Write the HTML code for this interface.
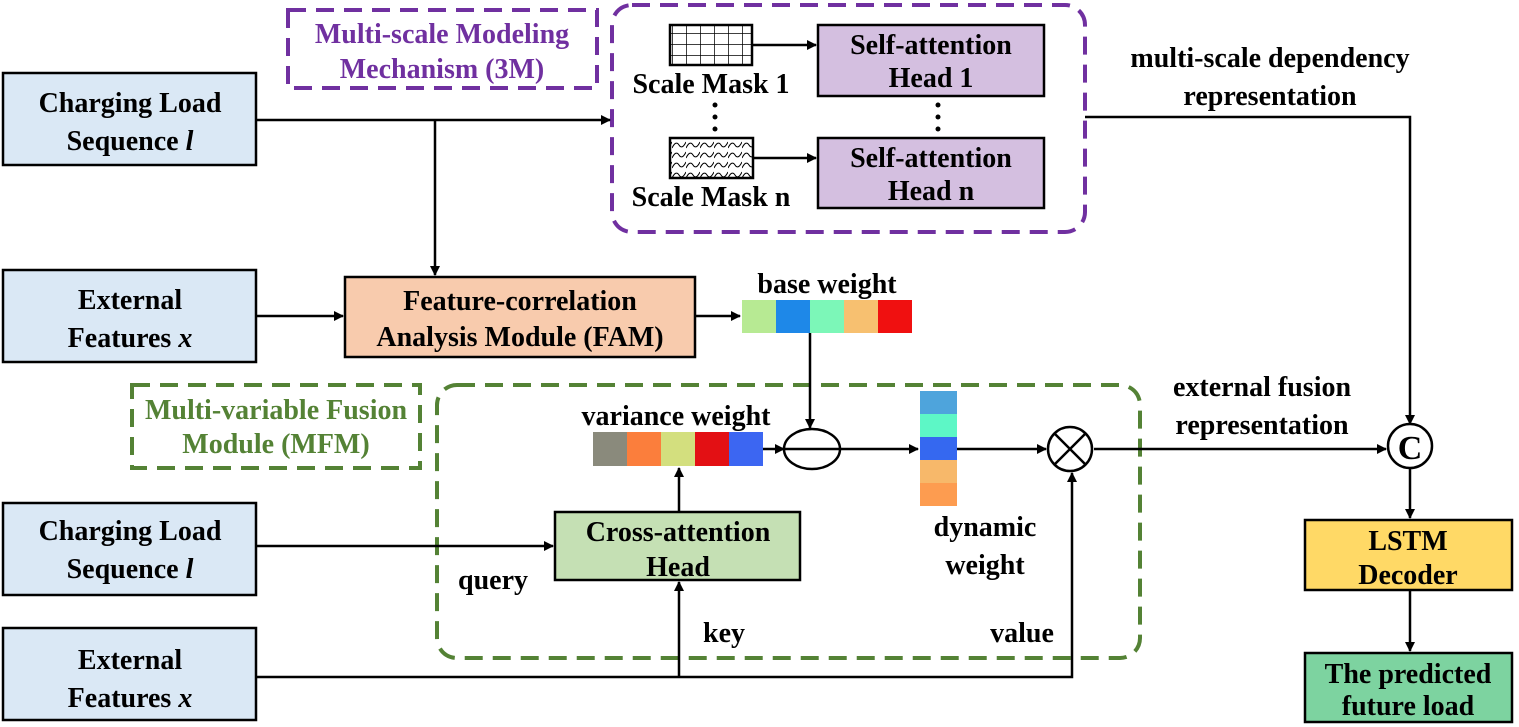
<!DOCTYPE html><html><head><style>body{margin:0;background:#fff}svg{display:block}text{font-family:"Liberation Serif","Times New Roman","DejaVu Serif",serif;font-weight:700;font-size:28px;text-anchor:middle;fill:#000}</style></head><body>
<svg width="1519" height="727" viewBox="0 0 1519 727" font-family="Liberation Serif, serif">
<defs><marker id="a" markerWidth="10" markerHeight="10" refX="9" refY="5" orient="auto" markerUnits="userSpaceOnUse"><path d="M0,0L10,5L0,10z" fill="#000"/></marker>
<pattern id="g" width="14" height="11" patternUnits="userSpaceOnUse"><path d="M0,0H14M0,0V11" stroke="#000" stroke-width="1.5" fill="none"/></pattern>
<pattern id="w" width="14" height="10" patternUnits="userSpaceOnUse"><path d="M0,8 Q4,0 7,5 T14,2" stroke="#000" stroke-width="1" fill="none"/></pattern></defs>
<g stroke="#000" stroke-width="2.5" fill="#dae8f5">
<rect x="3" y="73" width="253" height="92"/><rect x="3" y="270" width="253" height="92"/><rect x="3" y="503" width="253" height="92"/><rect x="3" y="628" width="253" height="92"/>
<rect x="345" y="277" width="350" height="80" fill="#f8cbad"/>
<rect x="818" y="25" width="226" height="71" fill="#d4bfe0"/><rect x="818" y="138" width="226" height="70" fill="#d4bfe0"/>
<rect x="670" y="25" width="82" height="40" fill="url(#g)"/><rect x="670" y="138" width="83" height="40" fill="url(#w)"/>
<rect x="555" y="512" width="245" height="68" fill="#c5e0b4"/>
<rect x="1305" y="520" width="207" height="70" fill="#ffd966"/><rect x="1305" y="653" width="207" height="69" fill="#7dd3a0"/>
</g>
<g fill="none" stroke-width="4" stroke-dasharray="18,10">
<rect x="288" y="10" width="309" height="78" stroke="#7030a0"/>
<rect x="612" y="5" width="473" height="227" rx="20" stroke="#7030a0"/>
<rect x="132" y="385" width="288" height="83" stroke="#548235"/>
<rect x="437" y="385" width="703" height="273" rx="20" stroke="#548235"/>
</g>
<g stroke="#000" stroke-width="2.5" fill="none">
<path d="M256,120H610" marker-end="url(#a)"/><path d="M435,120V275" marker-end="url(#a)"/>
<path d="M256,316H343" marker-end="url(#a)"/><path d="M695,316H740" marker-end="url(#a)"/>
<path d="M752,45H816" marker-end="url(#a)"/><path d="M753,158H816" marker-end="url(#a)"/>
<path d="M1085,117H1410V424" marker-end="url(#a)"/>
<path d="M810,333V428" marker-end="url(#a)"/>
<path d="M763,449H784" marker-end="url(#a)"/><path d="M840,449H918" marker-end="url(#a)"/>
<path d="M957,449H1046" marker-end="url(#a)"/><path d="M1094,449H1386" marker-end="url(#a)"/>
<path d="M256,546H553" marker-end="url(#a)"/><path d="M679,512V468" marker-end="url(#a)"/>
<path d="M256,677H1072V473" marker-end="url(#a)"/><path d="M679,677V582" marker-end="url(#a)"/>
<path d="M1410,468V518" marker-end="url(#a)"/><path d="M1410,590V651" marker-end="url(#a)"/>
<ellipse cx="812" cy="449" rx="28" ry="20"/><path d="M784,449H840"/>
<circle cx="1070" cy="449" r="22"/><path d="M1054,433L1086,465M1086,433L1054,465"/>
<circle cx="1410" cy="446" r="22"/>
</g>
<g fill="#000"><circle cx="715" cy="105" r="2.5"/><circle cx="715" cy="117" r="2.5"/><circle cx="715" cy="129" r="2.5"/><circle cx="938" cy="105" r="2.5"/><circle cx="938" cy="117" r="2.5"/><circle cx="938" cy="129" r="2.5"/></g>
<g stroke="none"><rect x="742" y="300" width="34" height="33" fill="#b7ea93"/><rect x="776" y="300" width="34" height="33" fill="#1e88e8"/><rect x="810" y="300" width="34" height="33" fill="#7cf7b8"/><rect x="844" y="300" width="34" height="33" fill="#f7c070"/><rect x="878" y="300" width="34" height="33" fill="#f01010"/>
<rect x="593" y="432" width="34" height="34" fill="#8a8a7c"/><rect x="627" y="432" width="34" height="34" fill="#fb7e3c"/><rect x="661" y="432" width="34" height="34" fill="#d3df7e"/><rect x="695" y="432" width="34" height="34" fill="#e31014"/><rect x="729" y="432" width="34" height="34" fill="#3c66f2"/>
<rect x="920" y="391" width="37" height="23" fill="#4ea4dc"/><rect x="920" y="414" width="37" height="23" fill="#5df7c6"/><rect x="920" y="437" width="37" height="23" fill="#3568f0"/><rect x="920" y="460" width="37" height="23" fill="#f7b86a"/><rect x="920" y="483" width="37" height="23" fill="#fd9c50"/></g>
<text x="130" y="112">Charging Load</text><text x="130" y="150">Sequence <tspan font-style="italic">l</tspan></text>
<text x="130" y="309">External</text><text x="130" y="347">Features <tspan font-style="italic">x</tspan></text>
<text x="130" y="540">Charging Load</text><text x="130" y="578">Sequence <tspan font-style="italic">l</tspan></text>
<text x="130" y="669">External</text><text x="130" y="707">Features <tspan font-style="italic">x</tspan></text>
<text x="520" y="310">Feature-correlation</text><text x="520" y="346">Analysis Module (FAM)</text>
<g style="font-size:24px"><text x="931" y="54">Self-attention</text><text x="931" y="87">Head 1</text><text x="931" y="167">Self-attention</text><text x="931" y="200">Head n</text>
<text x="711" y="93">Scale Mask 1</text><text x="711" y="206">Scale Mask n</text></g>
<g style="font-size:24px"><text x="442" y="43" fill="#7030a0" style="fill:#7030a0">Multi-scale Modeling</text><text x="442" y="78" style="fill:#7030a0">Mechanism (3M)</text></g>
<g style="font-size:24px"><text x="276" y="419" style="fill:#548235">Multi-variable Fusion</text><text x="276" y="453" style="fill:#548235">Module (MFM)</text></g>
<text x="827" y="293">base weight</text><text x="676" y="425">variance weight</text>
<text x="678" y="541">Cross-attention</text><text x="678" y="576">Head</text>
<text x="985" y="536">dynamic</text><text x="985" y="574">weight</text>
<text x="493" y="589">query</text><text x="724" y="642">key</text><text x="1022" y="642">value</text>
<text x="1262" y="396">external fusion</text><text x="1262" y="434">representation</text>
<text x="1270" y="67">multi-scale dependency</text><text x="1270" y="105">representation</text>
<text x="1410" y="459" style="font-size:34px">C</text>
<text x="1408" y="550">LSTM</text><text x="1408" y="584">Decoder</text>
<text x="1408" y="683">The predicted</text><text x="1408" y="715">future load</text>
</svg></body></html>
